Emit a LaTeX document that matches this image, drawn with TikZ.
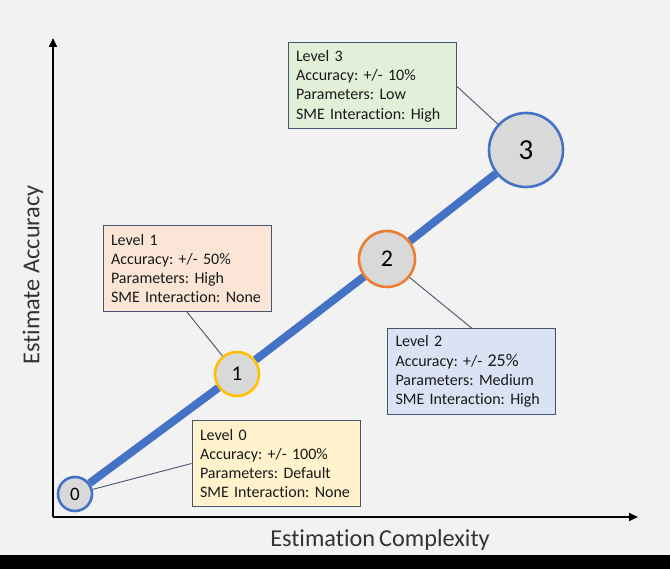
\documentclass[tikz,border=0pt]{standalone}
\usepackage{fontspec}
\setmainfont{Carlito}[Ligatures=NoCommon, Contextuals=NoAlternate]
\frenchspacing
\usetikzlibrary{arrows.meta}
\definecolor{bgc}{HTML}{F2F2F2}
\definecolor{lineblue}{HTML}{4472C4}
\definecolor{conn}{HTML}{44546A}
\definecolor{circfill}{HTML}{D9D9D9}
\definecolor{gfill}{HTML}{E2F0D9}
\definecolor{ofill}{HTML}{FBE5D6}
\definecolor{bfill}{HTML}{DAE3F3}
\definecolor{yfill}{HTML}{FFF2CC}
\definecolor{corange}{HTML}{ED7D31}
\definecolor{cyellow}{HTML}{FFC000}
\begin{document}
\begin{tikzpicture}[x=1pt,y=-1pt,
  infobox/.style={draw=conn, line width=1pt, rectangle, minimum width=168pt, minimum height=86pt,
    text width=152pt, align=left, inner sep=0pt, font=\fontsize{16}{19.3}\selectfont, text=black!90},
  lvl/.style={circle, fill=circfill, line width=2.6pt, inner sep=0pt},
  connline/.style={draw=conn, line width=0.9pt},
  axis/.style={line width=2.8pt, -{Triangle[length=9pt,width=8pt]}}]
\useasboundingbox (0,0) rectangle (670,569);
\fill[bgc] (0,0) rectangle (670,555);
\fill[black] (0,555) rectangle (670,569);
% axes
\coordinate (origin) at (53,517);
\coordinate (ytip) at (53,38);
\coordinate (xtip) at (638,517);
\draw[axis] (origin) -- (ytip);
\draw[axis] (origin) -- (xtip);
\node[rotate=90, font=\fontsize{24.3}{27}\selectfont, text=black!80] (ylab) at (33,275) {Estimate Accuracy};
\node[font=\fontsize{24.3}{27}\selectfont, text=black!80] (xlab) at (380,540) {Estimation\,Complexity};
% circles
\node[lvl, draw=lineblue, minimum size=34pt, font=\fontsize{19}{22}\selectfont] (c0) at (75,494) {0};
\node[lvl, draw=cyellow, minimum size=44pt, font=\fontsize{21}{24}\selectfont] (c1) at (237,374) {1};
\node[lvl, draw=corange, minimum size=56pt, font=\fontsize{24}{28}\selectfont] (c2) at (387,259) {2};
\node[lvl, draw=lineblue, minimum size=74pt, font=\fontsize{29}{32}\selectfont] (c3) at (526,150) {3};
% thick line
\draw[lineblue, line width=8pt] (c0) -- (c1);
\draw[lineblue, line width=8pt] (c1) -- (c2);
\draw[lineblue, line width=8pt] (c2) -- (c3);
% boxes
\node[infobox, fill=gfill] (b3) at (372,86) {Level 3\\Accuracy: +/- 10\%\\Parameters: Low\\SME Interaction: High};
\node[infobox, fill=ofill] (b1) at (187,268.5) {Level 1\\Accuracy: +/- 50\%\\Parameters: High\\SME Interaction: None};
\node[infobox, fill=bfill] (b2) at (471.5,371.5) {Level 2\\Accuracy: +/- {\fontsize{18}{19.3}\selectfont 25\%}\\Parameters: Medium\\SME Interaction: High};
\node[infobox, fill=yfill] (b0) at (276,463.5) {Level 0\\Accuracy: +/- 100\%\\Parameters: Default\\SME Interaction: None};
% connectors
\draw[connline] (b3.east) -- (c3);
\draw[connline] (b1.south) -- (c1);
\draw[connline] (b2.north) -- (c2);
\draw[connline] (b0.west) -- (c0);
\end{tikzpicture}
\end{document}
